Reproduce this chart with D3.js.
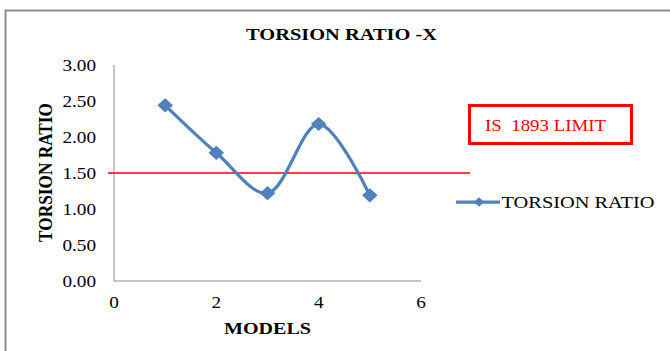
<!DOCTYPE html>
<html>
<head>
<meta charset="utf-8">
<script src="https://cdn.jsdelivr.net/npm/d3@7"></script>
<style>
  body { margin: 0; background: #fff; }
</style>
</head>
<body>
<script>
// chart data
const models = [1, 2, 3, 4, 5];
const torsionRatio = [2.44, 1.78, 1.22, 2.18, 1.19];
const xTicks = [0, 2, 4, 6];
const yTicks = [0, 0.5, 1, 1.5, 2, 2.5, 3];
const limitValue = 1.5;
const limitLabel = "IS  1893 LIMIT";
const seriesName = "TORSION RATIO";
const chartTitle = "TORSION RATIO -X";
const xTitle = "MODELS";
const yTitle = "TORSION RATIO";

const w = 670;
const h = 351;
const blue = "#4f81bd";
const serif = "Liberation Serif";
const sx = 1.2; // the picture is a bit stretched sideways

const svg = d3.select("body")
    .append("svg")
    .attr("width", w)
    .attr("height", h);

// outer chart border (right/bottom edges are off the picture)
svg.append("rect")
    .attr("x", 5.5).attr("y", 10.5)
    .attr("width", 800).attr("height", 500)
    .attr("fill", "none")
    .attr("stroke", "#8c8c8c")
    .attr("stroke-width", 2);

const xScale = d3.scaleLinear().domain([0, 6]).range([114, 421]);
const yScale = d3.scaleLinear().domain([0, 3]).range([281, 65]);

// helper for horizontally stretched text
const label = (x, y, txt, size, opts = {}) => {
    const t = svg.append("text")
        .attr("transform", `translate(${x},${y}) scale(${opts.sx || sx},1)`)
        .attr("text-anchor", opts.anchor || "middle")
        .attr("font-family", serif)
        .attr("font-size", size)
        .attr("font-weight", opts.bold ? "bold" : "normal")
        .attr("fill", opts.fill || "#000")
        .style("white-space", "pre")
        .text(txt);
    if (opts.len) {
        t.attr("textLength", opts.len / (opts.sx || sx)).attr("lengthAdjust", "spacingAndGlyphs");
    }
    return t;
};

// axes lines
svg.append("line")
    .attr("x1", xScale(0)).attr("x2", xScale(0))
    .attr("y1", yScale(3)).attr("y2", yScale(0))
    .attr("stroke", "#8c8c8c").attr("stroke-width", 1);
svg.append("line")
    .attr("x1", xScale(0)).attr("x2", xScale(6))
    .attr("y1", yScale(0)).attr("y2", yScale(0))
    .attr("stroke", "#8c8c8c").attr("stroke-width", 1);

// tick labels
yTicks.forEach(v => label(96, yScale(v) + 5.5, d3.format(".2f")(v), 16, {anchor: "end"}));
xTicks.forEach(v => label(xScale(v), 307.5, String(v), 16));

// titles
label(341.5, 40, chartTitle, 16.5, {bold: true, len: 191});
label(267.5, 333.5, xTitle, 16.5, {bold: true, len: 87});
svg.append("text")
    .attr("transform", "translate(51.5,172.5) rotate(-90) scale(1,1.2)")
    .attr("text-anchor", "middle")
    .attr("font-family", serif)
    .attr("font-size", 16.5)
    .attr("font-weight", "bold")
    .attr("textLength", 139)
    .attr("lengthAdjust", "spacingAndGlyphs")
    .text(yTitle);

// limit line
svg.append("line")
    .attr("x1", 108).attr("x2", 470)
    .attr("y1", yScale(limitValue)).attr("y2", yScale(limitValue))
    .attr("stroke", "#ff0000").attr("stroke-width", 1.5);

// limit label box
svg.append("rect")
    .attr("x", 469.5).attr("y", 105.5)
    .attr("width", 162).attr("height", 38)
    .attr("fill", "#fff")
    .attr("stroke", "#ff0000")
    .attr("stroke-width", 3);
label(485, 131, limitLabel, 17, {anchor: "start", fill: "#ff0000", len: 121});

// series line
const pts = models.map((m, i) => [m, torsionRatio[i]]);
const line = d3.line()
    .x(d => xScale(d[0]))
    .y(d => yScale(d[1]))
    .curve(d3.curveCatmullRom.alpha(0.5));

svg.append("path")
    .datum(pts)
    .attr("d", line)
    .attr("fill", "none")
    .attr("stroke", blue)
    .attr("stroke-width", 3.25);

const diamond = d3.symbol().type(d3.symbolSquare).size(100);
svg.selectAll(".dot")
    .data(pts)
    .enter()
    .append("path")
    .attr("class", "dot")
    .attr("d", diamond)
    .attr("transform", d => `translate(${xScale(d[0])},${yScale(d[1])}) scale(1.1,1) rotate(45)`)
    .attr("fill", blue);

// legend
svg.append("line")
    .attr("x1", 456).attr("x2", 500)
    .attr("y1", 202).attr("y2", 202)
    .attr("stroke", blue).attr("stroke-width", 3.25);
svg.append("path")
    .attr("d", d3.symbol().type(d3.symbolSquare).size(45))
    .attr("transform", "translate(479,202) scale(1.1,1) rotate(45)")
    .attr("fill", blue);
label(501.5, 207.5, seriesName, 17, {anchor: "start", len: 153});
</script>
</body>
</html>
